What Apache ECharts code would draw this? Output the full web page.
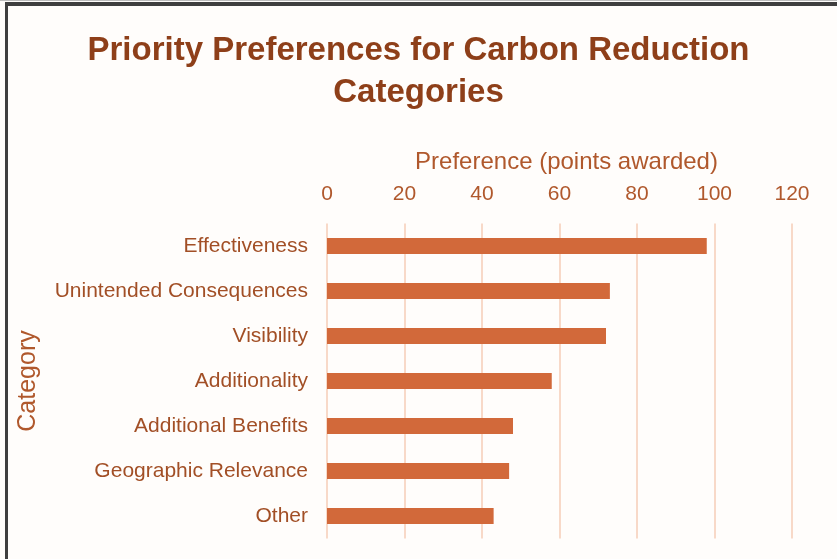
<!DOCTYPE html>
<html>
<head>
<meta charset="utf-8">
<script src="https://cdn.jsdelivr.net/npm/echarts@6/dist/echarts.min.js"></script>
<style>
html,body{margin:0;padding:0;background:#fffdfb;}
#frame{position:absolute;left:0;top:0;width:837px;height:559px;box-sizing:border-box;border-top:1px solid #bdbdbd;}
#inner{position:absolute;left:5px;top:2px;width:832px;height:557px;box-sizing:border-box;border-top:4px solid #3f3f3f;border-left:3px solid #3f3f3f;background:#fffdfb;}
#chart{position:absolute;left:0;top:0;width:837px;height:559px;}
</style>
</head>
<body>
<div id="frame"></div>
<div id="inner"></div>
<div id="chart"></div>
<script>
const categories = ["Effectiveness","Unintended Consequences","Visibility","Additionality","Additional Benefits","Geographic Relevance","Other"];
const points = [98, 73, 72, 58, 48, 47, 43];
const xTicks = [0, 20, 40, 60, 80, 100, 120];

const chart = echarts.init(document.getElementById('chart'), null, {renderer:'canvas'});
const fontFam = '"Liberation Sans", Arial, sans-serif';
chart.setOption({
  backgroundColor: 'transparent',
  animation: false,
  title: {
    text: 'Priority Preferences for Carbon Reduction\nCategories',
    left: 'center',
    top: 25,
    textStyle: {fontFamily: fontFam, fontSize: 33, fontWeight: 'bold', color: '#8e3f19', lineHeight: 42}
  },
  grid: {left: 327, right: 45, top: 223.5, bottom: 20.5, containLabel: false},
  xAxis: {
    type: 'value',
    position: 'top',
    min: xTicks[0],
    max: xTicks[xTicks.length-1],
    interval: xTicks[1]-xTicks[0],
    name: 'Preference (points awarded)',
    nameLocation: 'middle',
    nameGap: 49,
    nameTextStyle: {fontFamily: fontFam, fontSize: 24, color: '#b0582c', padding:[0,0,0,14]},
    axisLine: {show: false},
    axisTick: {show: false},
    axisLabel: {fontFamily: fontFam, fontSize: 21, color: '#b0582c', margin: 19},
    splitLine: {show: true, lineStyle: {color: '#f6cdb7', width: 1.5}}
  },
  yAxis: {
    type: 'category',
    inverse: true,
    data: categories,
    name: 'Category',
    nameLocation: 'middle',
    nameGap: 286,
    nameTextStyle: {fontFamily: fontFam, fontSize: 25, color: '#b0582c'},
    axisLine: {show: false},
    axisTick: {show: false},
    axisLabel: {fontFamily: fontFam, fontSize: 21, color: '#a24f26', margin: 19},
    splitLine: {show: false}
  },
  series: [{
    type: 'bar',
    data: points,
    barWidth: 16,
    itemStyle: {color: '#d2693a'}
  }]
});
</script>
</body>
</html>
